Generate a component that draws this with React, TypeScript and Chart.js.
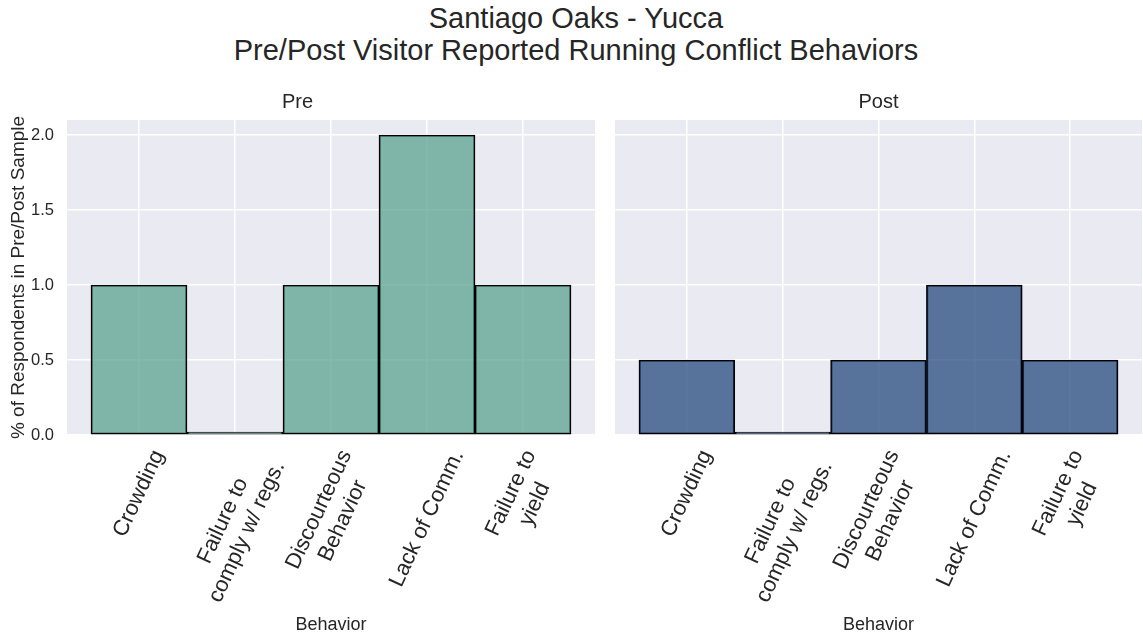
import React, { useEffect, useRef } from 'react';
import { Chart, registerables } from 'chart.js';

Chart.register(...registerables);

const FONT = '"Liberation Sans", Arial, Helvetica, sans-serif';
const TEXT = '#262626';

// ---- data ----
const titleLines = ['Santiago Oaks - Yucca', 'Pre/Post Visitor Reported Running Conflict Behaviors'];
const behaviorLabels: string[][] = [
  ['Crowding'],
  ['Failure to', 'comply w/ regs.'],
  ['Discourteous', 'Behavior'],
  ['Lack of Comm.'],
  ['Failure to', 'yield'],
];
const categoryPositions = [0, 1, 2, 3, 4];
const preValues = [1.0, 0.0, 1.0, 2.0, 1.0];
const postValues = [0.5, 0.0, 0.5, 1.0, 0.5];
const yTickValues = [0, 0.5, 1.0, 1.5, 2.0];
const panelTitles = ['Pre', 'Post'];
const xAxisTitle = 'Behavior';
const yAxisTitle = '% of Respondents in Pre/Post Sample';

type PanelProps = {
  values: number[];
  fill: string;
  title: string;
  showY: boolean;
  left: number;
  width: number;
};

const TOP = 72;
const HEIGHT = 565;

function Panel({ values, fill, title, showY, left, width }: PanelProps) {
  const ref = useRef<HTMLCanvasElement>(null);

  useEffect(() => {
    if (!ref.current) return;
    const bgPlugin = {
      id: 'panelBg',
      beforeDraw(chart: any) {
        const { ctx, chartArea: a } = chart;
        ctx.save();
        ctx.fillStyle = '#eaeaf2';
        ctx.fillRect(a.left, a.top, a.right - a.left, a.bottom - a.top);
        ctx.restore();
      },
    };
    const xLabelPlugin = {
      id: 'rotatedXLabels',
      afterDraw(chart: any) {
        const { ctx, chartArea } = chart;
        const xs = chart.scales.x;
        const size = 22;
        const lh = size * 1.2;
        const th = (65 * Math.PI) / 180;
        ctx.save();
        ctx.font = `${size}px ${FONT}`;
        ctx.fillStyle = TEXT;
        ctx.textAlign = 'center';
        ctx.textBaseline = 'middle';
        categoryPositions.forEach((v, i) => {
          const lines = behaviorLabels[i];
          const w = Math.max(...lines.map((l) => ctx.measureText(l).width));
          const h = lines.length * lh;
          const bh = w * Math.sin(th) + h * Math.cos(th);
          const cx = xs.getPixelForValue(v);
          const cy = chartArea.bottom + 11 + bh / 2;
          ctx.save();
          ctx.translate(cx, cy);
          ctx.rotate(-th);
          lines.forEach((l, j) => ctx.fillText(l, 0, (j - (lines.length - 1) / 2) * lh));
          ctx.restore();
        });
        ctx.restore();
      },
    };

    const chart = new Chart(ref.current, {
      type: 'bar',
      data: {
        datasets: [
          {
            data: categoryPositions.map((x, i) => ({ x, y: values[i] })),
            backgroundColor: fill,
            borderColor: '#000000',
            borderWidth: 1.5,
            borderSkipped: false,
            minBarLength: 3,
            barPercentage: 1,
            categoryPercentage: 1,
          } as any,
        ],
      },
      options: {
        animation: false,
        responsive: false,
        layout: { padding: { left: showY ? 0 : 10, right: showY ? 10 : 1, top: 0, bottom: 0 } },
        plugins: {
          legend: { display: false },
          tooltip: { enabled: false },
          title: {
            display: true,
            text: title,
            color: TEXT,
            font: { size: 20, family: FONT, weight: 'normal' },
            padding: { top: 18, bottom: 6 },
          },
        },
        scales: {
          x: {
            type: 'linear',
            offset: false,
            min: -0.75,
            max: 4.75,
            afterBuildTicks: (s: any) => {
              s.ticks = categoryPositions.map((v) => ({ value: v }));
            },
            afterFit: (s: any) => {
              s.height = 202;
            },
            ticks: { display: false },
            grid: { color: '#ffffff', lineWidth: 1.5, drawTicks: false, offset: false },
            border: { display: false },
            title: {
              display: true,
              text: xAxisTitle,
              color: TEXT,
              font: { size: 18, family: FONT },
              padding: { top: 0, bottom: 1 },
            },
          },
          y: {
            min: 0,
            max: 2.1,
            afterBuildTicks: (s: any) => {
              s.ticks = yTickValues.map((v) => ({ value: v }));
            },
            afterFit: (s: any) => {
              s.width = showY ? 67 : 0;
            },
            ticks: {
              display: showY,
              padding: 13,
              color: TEXT,
              font: { size: 16.5, family: FONT },
              callback: (v: any) => Number(v).toFixed(1),
            },
            grid: { color: '#ffffff', lineWidth: 1.5, drawTicks: false },
            border: { display: false },
            title: {
              display: showY,
              text: yAxisTitle,
              color: TEXT,
              font: { size: 19, family: FONT },
              padding: { top: 7, bottom: 0 },
            },
          },
        },
      } as any,
      plugins: [bgPlugin, xLabelPlugin],
    });
    return () => chart.destroy();
  }, [values, fill, title, showY]);

  return (
    <canvas
      ref={ref}
      width={width}
      height={HEIGHT}
      style={{ position: 'absolute', left, top: TOP, width, height: HEIGHT }}
    />
  );
}

export default function App() {
  return (
    <div
      style={{
        position: 'absolute',
        left: 0,
        top: 0,
        width: 1143,
        height: 637,
        background: '#ffffff',
        overflow: 'hidden',
      }}
    >
      <div
        style={{
          position: 'absolute',
          left: 0,
          top: 2,
          width: 1152,
          textAlign: 'center',
          fontFamily: FONT,
          fontSize: 29,
          lineHeight: '32px',
          color: TEXT,
        }}
      >
        {titleLines.map((t) => (
          <div key={t}>{t}</div>
        ))}
      </div>
      <Panel values={preValues} fill="rgba(89,163,143,0.75)" title={panelTitles[0]} showY={true} left={0} width={605} />
      <Panel values={postValues} fill="rgba(37,75,125,0.75)" title={panelTitles[1]} showY={false} left={605} width={538} />
    </div>
  );
}
